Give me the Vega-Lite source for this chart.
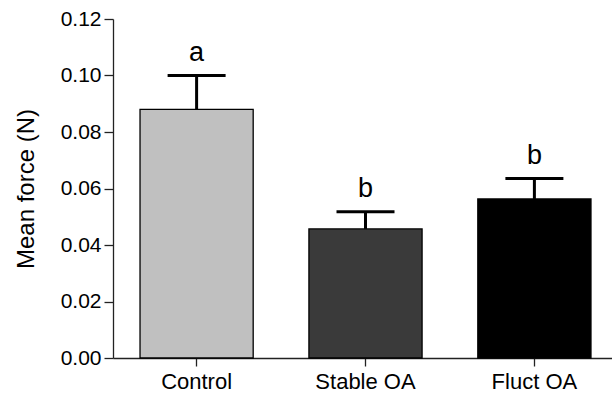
{
  "$schema": "https://vega.github.io/schema/vega-lite/v6.json",
  "width": 505,
  "height": 339,
  "autosize": "none",
  "padding": {"left": 113, "top": 19, "right": 0, "bottom": 41},
  "background": "white",
  "config": {
    "view": {"stroke": null},
    "font": "Liberation Sans",
    "axis": {"grid": false, "domainColor": "#222", "tickColor": "#222", "labelColor": "#000", "titleColor": "#000", "domainWidth": 1.3, "tickWidth": 1.3}
  },
  "data": {
    "values": [
      {"group": "Control", "mean": 0.088, "err": 0.100, "letter": "a"},
      {"group": "Stable OA", "mean": 0.0457, "err": 0.0518, "letter": "b"},
      {"group": "Fluct OA", "mean": 0.0563, "err": 0.0635, "letter": "b"}
    ]
  },
  "encoding": {
    "x": {
      "field": "group", "type": "nominal", "sort": null,
      "scale": {"paddingInner": 0.33, "paddingOuter": 0.16},
      "axis": {"title": null, "labelAngle": 0, "labelFontSize": 22, "tickSize": 8, "labelPadding": 5}
    }
  },
  "layer": [
    {
      "mark": {"type": "rule", "strokeWidth": 3, "color": "#000"},
      "encoding": {
        "y": {"field": "mean", "type": "quantitative"},
        "y2": {"field": "err"}
      }
    },
    {
      "mark": {"type": "tick", "size": 58, "thickness": 3, "color": "#000", "opacity": 1},
      "encoding": {
        "y": {"field": "err", "type": "quantitative"}
      }
    },
    {
      "mark": {"type": "bar", "stroke": "#000", "strokeWidth": 1.3},
      "encoding": {
        "y": {
          "field": "mean", "type": "quantitative",
          "scale": {"domain": [0, 0.12], "nice": false},
          "axis": {"title": "Mean force (N)", "titleFontSize": 24, "titleFontWeight": "normal", "titlePadding": 22, "labelFontSize": 21, "format": ".2f", "values": [0, 0.02, 0.04, 0.06, 0.08, 0.10, 0.12], "tickSize": 9, "labelPadding": 3}
        },
        "fill": {
          "field": "group", "type": "nominal", "legend": null,
          "scale": {"domain": ["Control", "Stable OA", "Fluct OA"], "range": ["#c0c0c0", "#3a3a3a", "#000000"]}
        }
      }
    },
    {
      "mark": {"type": "text", "fontSize": 27, "baseline": "alphabetic", "dy": -15, "color": "#000"},
      "encoding": {
        "y": {"field": "err", "type": "quantitative"},
        "text": {"field": "letter"}
      }
    }
  ]
}
